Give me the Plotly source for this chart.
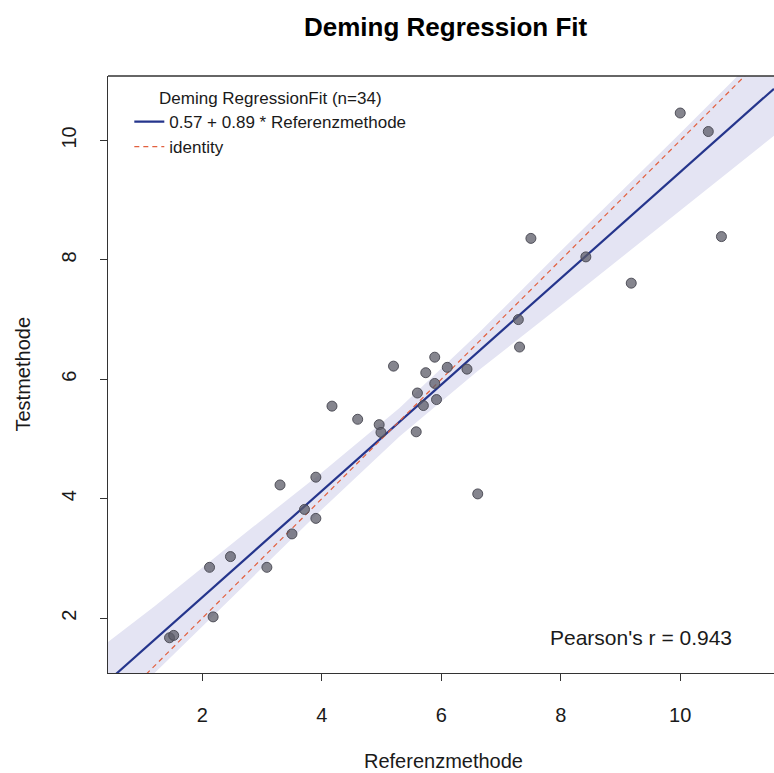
import plotly.graph_objects as go

# ---- data ----
ref_x = [1.45, 1.52, 2.12, 2.18, 2.47, 3.08, 3.30, 3.50, 3.71, 3.90, 3.90,
         4.17, 4.60, 4.96, 4.99, 5.20, 5.58, 5.60, 5.70, 5.74, 5.89, 5.89,
         5.92, 6.10, 6.43, 6.61, 7.29, 7.31, 7.50, 8.42, 9.18, 10.00, 10.47, 10.69]
test_y = [1.67, 1.71, 2.85, 2.02, 3.03, 2.85, 4.23, 3.41, 3.82, 4.36, 3.67,
          5.55, 5.33, 5.24, 5.11, 6.22, 5.12, 5.77, 5.56, 6.11, 6.37, 5.93,
          5.66, 6.20, 6.17, 4.08, 7.00, 6.54, 8.36, 8.05, 7.61, 10.46, 10.15, 8.39]

fit_intercept = 0.57
fit_slope = 0.89
pearson_r = 0.943

band_x = [0.42, 1.2, 2.5, 4.0, 5.3, 6.6, 8.0, 9.0, 10.0, 11.0, 11.57]
band_upper = [1.60, 2.20, 3.25, 4.44, 5.52, 6.75, 8.15, 9.13, 10.12, 11.12, 11.69]
band_lower = [0.28, 1.08, 2.35, 3.82, 5.04, 6.13, 7.23, 8.03, 8.82, 9.62, 10.08]

x_range = [0.42, 11.57]
y_range = [1.08, 11.08]
tick_vals = [2, 4, 6, 8, 10]

FONT = "Liberation Sans, Arial, sans-serif"
TXT = "#1a1a1a"

fig = go.Figure()

fig.add_trace(go.Scatter(x=band_x, y=band_lower, mode="lines",
                         line=dict(width=0), showlegend=False, hoverinfo="skip"))
fig.add_trace(go.Scatter(x=band_x, y=band_upper, mode="lines", fill="tonexty",
                         fillcolor="#E4E4F3", line=dict(width=0),
                         showlegend=False, hoverinfo="skip"))

fit_y = [fit_intercept + fit_slope * v for v in x_range]
fig.add_trace(go.Scatter(x=x_range, y=fit_y, mode="lines",
                         line=dict(color="#25358C", width=2.2),
                         name=f"{fit_intercept} + {fit_slope} * Referenzmethode"))
fig.add_trace(go.Scatter(x=x_range, y=x_range, mode="lines",
                         line=dict(color="#E2603F", width=1.2, dash="5px,4px"),
                         name="identity"))

fig.add_trace(go.Scatter(x=ref_x, y=test_y, mode="markers",
                         marker=dict(size=10, color="rgba(92,92,104,0.75)",
                                     line=dict(color="rgba(70,70,80,0.9)", width=1)),
                         showlegend=False))

fig.update_layout(
    width=774, height=773,
    margin=dict(l=108, r=0, t=76, b=100),
    paper_bgcolor="white", plot_bgcolor="white",
    font=dict(family=FONT, size=20, color=TXT),
    showlegend=True,
    legend=dict(
        x=0.032, y=0.99, xanchor="left", yanchor="top",
        bgcolor="rgba(0,0,0,0)", traceorder="normal",
        font=dict(size=17, family=FONT, color=TXT),
        title=dict(text=f"Deming RegressionFit (n={len(ref_x)})",
                   side="top center", font=dict(size=17, family=FONT, color=TXT)),
        itemwidth=30, tracegroupgap=0,
    ),
    xaxis=dict(range=x_range, tickvals=tick_vals, showgrid=False, zeroline=False,
               showline=True, linecolor="#333333", linewidth=1.3,
               ticks="outside", ticklen=7, tickcolor="#333333",
               tickfont=dict(size=20, family=FONT, color=TXT),
               ticklabelstandoff=17),
    yaxis=dict(range=y_range, tickvals=tick_vals, showgrid=False, zeroline=False,
               showline=True, linecolor="#333333", linewidth=1.3,
               ticks="outside", ticklen=7, tickcolor="#333333", tickangle=-90,
               tickfont=dict(size=20, family=FONT, color=TXT),
               ticklabelstandoff=16),
    shapes=[dict(type="line", xref="paper", yref="paper", x0=0, x1=1, y0=1, y1=1,
                 line=dict(color="#333333", width=1.3))],
    annotations=[
        dict(text="<b>Deming Regression Fit</b>", xref="paper", yref="paper",
             x=(445 - 108) / 666, y=1 + (76 - 27) / 597, xanchor="center", yanchor="middle",
             showarrow=False, font=dict(size=26, family=FONT, color="black")),
        dict(text="Referenzmethode", xref="paper", yref="paper",
             x=(444 - 108) / 666, y=(673 - 761) / 597, xanchor="center", yanchor="middle",
             showarrow=False, font=dict(size=20, family=FONT, color=TXT)),
        dict(text="Testmethode", xref="paper", yref="paper", textangle=-90,
             x=(22 - 108) / 666, y=0.5, xanchor="center", yanchor="middle",
             showarrow=False, font=dict(size=20, family=FONT, color=TXT)),
        dict(text=f"Pearson's r = {pearson_r}", xref="paper", yref="paper",
             x=(641 - 108) / 666, y=(673 - 637) / 597, xanchor="center", yanchor="middle",
             showarrow=False, font=dict(size=21, family=FONT, color=TXT)),
    ],
)

fig.write_html("out.html", config={"displayModeBar": False},
               post_script="document.body.style.margin='0';document.body.style.overflow='hidden';")
